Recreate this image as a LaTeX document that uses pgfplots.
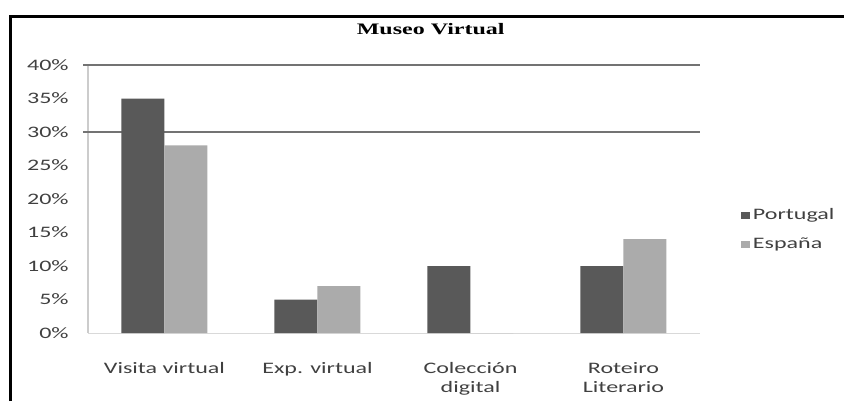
\documentclass[border=0pt]{standalone}
\usepackage{fontspec}
\setmainfont{Carlito}[FakeStretch=1.5]
\newfontfamily\titlefont{Liberation Serif}[FakeStretch=1.5]
\usepackage{pgfplots}
\pgfplotsset{compat=1.18}
\definecolor{portugal}{HTML}{595959}
\definecolor{espana}{HTML}{ABABAB}
\begin{document}
\begin{tikzpicture}[x=1pt,y=1pt]
\useasboundingbox (-66,-51) rectangle (567,249.75);
\begin{axis}[
  at={(0,0)}, anchor=south west,
  scale only axis, width=459pt, height=201pt,
  ybar=0pt, bar width=32.25pt,
  xmin=-0.5, xmax=3.5, ymin=0, ymax=40,
  xtick={0,1,2,3},
  xticklabels={Visita virtual, Exp. virtual, {Colección\\digital}, {Roteiro\\Literario}},
  xticklabel style={align=center, font=\fontsize{12}{14.5}\selectfont, text=black!75, yshift=-14pt},
  extra x ticks={0.5,1.5,2.5,3.5},
  extra x tick labels={},
  extra x tick style={major tick length=4pt, tick style={draw=black!25}},
  major x tick style={draw=none},
  ytick={0,5,...,40},
  yticklabel={\pgfmathprintnumber{\tick}\%},
  /pgf/number format/assume math mode=true,
  yticklabel style={font=\fontsize{12}{14}\selectfont, text=black!75, xshift=-11pt},
  major y tick style={draw=none},
  axis x line*=bottom,
  axis y line*=left,
  x axis line style={draw=black!15},
  y axis line style={draw=black!20, line width=0.8pt},
  title={\titlefont\bfseries Museo Virtual},
  title style={at={(axis description cs:0.56,1.104)}, anchor=center, font=\fontsize{12}{14}\selectfont},
  legend style={at={(axis description cs:1.06,0.386)}, anchor=west, draw=none, fill=none,
    font=\fontsize{12}{14}\selectfont, text=black!75, row sep=8pt, legend cell align=left},
  legend image code/.code={\fill[#1] (0pt,-2.6pt) rectangle (7pt,2.6pt);},
  clip=false,
]
\draw[black!55, line width=1.1pt] (axis cs:-0.53,30) -- (axis cs:3.5,30);
\draw[black!55, line width=1.1pt] (axis cs:-0.53,40) -- (axis cs:3.5,40);
\addplot[fill=portugal, draw=none] coordinates {(0,35) (1,5) (2,10) (3,10)};
\addplot[fill=espana, draw=none] coordinates {(0,28) (1,7) (2,0) (3,14)};
\legend{Portugal, España}
\end{axis}
\draw[black, line width=2.25pt] (-57.75,-51) -- (-57.75,237.75) -- (567,237.75);
\end{tikzpicture}
\end{document}
